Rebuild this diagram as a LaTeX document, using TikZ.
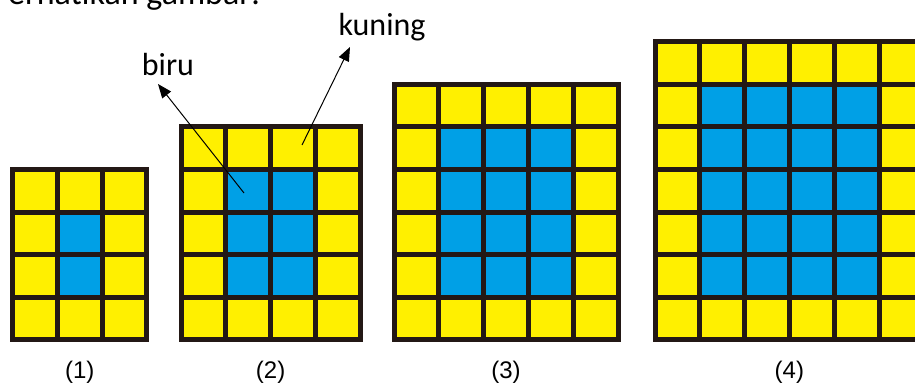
\documentclass[tikz,border=0pt]{standalone}
\usepackage{fontspec}
\setmainfont{Carlito}
\newfontfamily\arialfont{Liberation Sans}
\usetikzlibrary{arrows.meta}
\definecolor{kuningfill}{HTML}{FFF000}
\definecolor{birufill}{HTML}{00A0E6}
\definecolor{garis}{HTML}{231815}

\begin{document}
\begin{tikzpicture}[x=1pt,y=-1pt,
    keterangan/.style={font=\fontsize{32}{34}\selectfont, inner sep=0pt, anchor=base},
    nomor/.style={font=\arialfont\fontsize{24}{26}\selectfont, inner sep=0pt, anchor=base},
    garisgrid/.style={garis, line width=5pt, line cap=rect},
    petunjuk/.style={line width=1pt, -{Triangle[length=14pt,width=11pt]}},
  ]
  \useasboundingbox (0,0) rectangle (915,385);
  \def\lebar{44.8}
  \def\tinggi{42.5}
  \def\bawah{339.5}
  \node[keterangan, font=\fontsize{34}{36}\selectfont, anchor=base west] (judul) at (-9,5) {Perhatikan gambar:};
  \foreach \n/\kiri in {1/12.5, 2/181, 3/394, 4/655} {
    \pgfmathtruncatemacro\kolom{\n+2}
    \pgfmathtruncatemacro\baris{\n+3}
    \pgfmathsetmacro\kanan{\kiri+\kolom*\lebar}
    \pgfmathsetmacro\atas{\bawah-\baris*\tinggi}
    \fill[kuningfill] (\kiri,\atas) rectangle (\kanan,\bawah);
    \fill[birufill] (\kiri+\lebar,\atas+\tinggi) rectangle (\kanan-\lebar,\bawah-\tinggi);
    \foreach \i in {0,...,\kolom}
      \draw[garisgrid] (\kiri+\i*\lebar,\atas) -- (\kiri+\i*\lebar,\bawah);
    \foreach \j in {0,...,\baris}
      \draw[garisgrid] (\kiri,\atas+\j*\tinggi) -- (\kanan,\atas+\j*\tinggi);
    \node[nomor] (nomor\n) at ({(\kiri+\kanan)/2},378) {(\n)};
  }
  \node[keterangan] (biru) at (168,76) {biru};
  \node[keterangan] (kuning) at (382,36) {kuning};
  \coordinate (biru asal) at (244,193);
  \coordinate (biru ujung) at (158,84);
  \coordinate (kuning asal) at (302,145);
  \coordinate (kuning ujung) at (350,47);
  \draw[petunjuk] (biru asal) -- (biru ujung);
  \draw[petunjuk] (kuning asal) -- (kuning ujung);
\end{tikzpicture}
\end{document}
